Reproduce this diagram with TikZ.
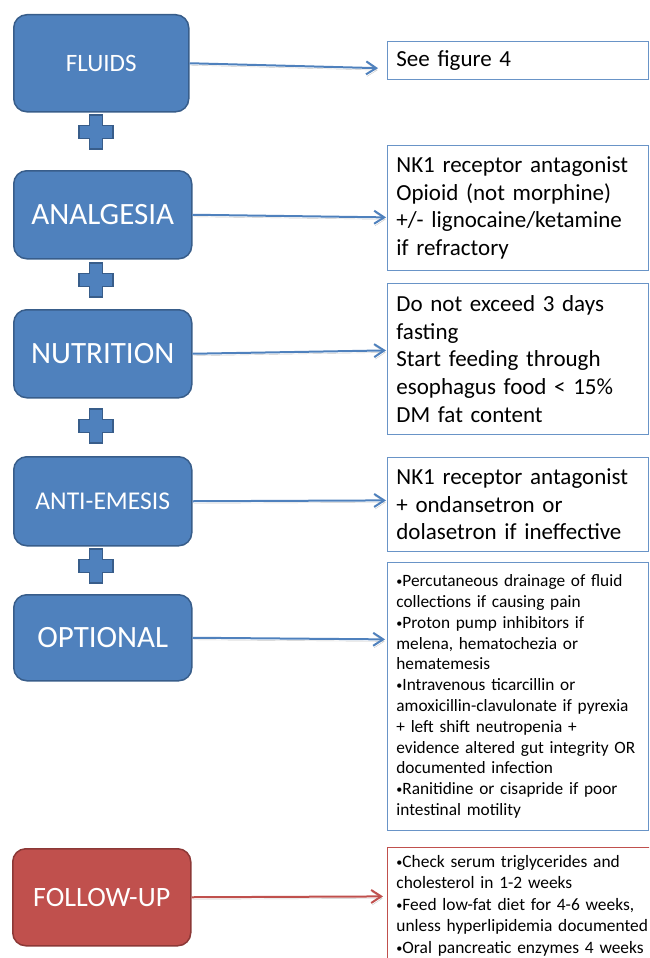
\documentclass[tikz,border=0pt]{standalone}
\usepackage{fontspec}
\setmainfont{Carlito}
\usetikzlibrary{arrows.meta}

\definecolor{stepblue}{HTML}{4F81BD}
\definecolor{stepedge}{HTML}{385D8A}
\definecolor{notered}{HTML}{C0504D}
\definecolor{rededge}{HTML}{8C3836}

\newcommand{\smallbul}{\raisebox{0.12ex}{\scalebox{0.7}{•}}}

\begin{document}
\begin{tikzpicture}[
	x=1pt, y=-1pt,
	stagebox/.style={rectangle, rounded corners=13pt, draw=stepedge, fill=stepblue, line width=1.5pt, text=white, minimum width=178pt, anchor=north west},
	notebox/.style={rectangle, draw=stepblue!85, line width=0.8pt, text width=243pt, inner xsep=9pt, inner ysep=0pt, align=left, anchor=north west, font=\fontsize{23}{27.7}\selectfont},
	smallnote/.style={notebox, font=\fontsize{17.3}{20.8}\selectfont},
	linkarrow/.style={-{Straight Barb[length=10pt,width=13pt]}, line width=2pt, draw=stepblue, preaction={draw=black!22, transform canvas={shift={(1pt,-2pt)}}}},
	plus/.pic={
		\filldraw[fill=stepblue, draw=stepedge, line width=1.2pt] (-6.5,-17) -- (6.5,-17) -- (6.5,-6.5) -- (17,-6.5) -- (17,6.5) -- (6.5,6.5) -- (6.5,17) -- (-6.5,17) -- (-6.5,6.5) -- (-17,6.5) -- (-17,-6.5) -- (-6.5,-6.5) -- cycle;
	}
	]
	\path[use as bounding box, clip] (0,0) rectangle (649,958);
	
	% treatment stages
	\node[stagebox, minimum width=175pt, minimum height=97pt, font=\fontsize{25}{30}\selectfont] (fluids) at (13,14) {FLUIDS};
	\node[stagebox, minimum height=88pt, font=\fontsize{31}{36}\selectfont] (analgesia) at (13,170) {ANALGESIA};
	\node[stagebox, minimum height=88pt, font=\fontsize{31}{36}\selectfont] (nutrition) at (13,309) {NUTRITION};
	\node[stagebox, minimum height=89pt, font=\fontsize{25.6}{30}\selectfont] (antiemesis) at (13,456) {ANTI-EMESIS};
	\node[stagebox, minimum height=86pt, font=\fontsize{31}{36}\selectfont] (optional) at (13,594) {OPTIONAL};
	\node[stagebox, fill=notered, draw=rededge, minimum height=97pt, font=\fontsize{28}{33}\selectfont] (followup) at (12,848) {FOLLOW-UP};
	
	\pic at (96,132) {plus};
	\pic at (96,280) {plus};
	\pic at (96,426) {plus};
	\pic at (96,566) {plus};
	
	% notes
	\node[notebox, minimum height=38pt] (seefig) at (387,41) {See figure 4};
	\node[notebox, minimum height=125pt] (analgesianote) at (387,145) {NK1 receptor antagonist\\ Opioid (not morphine)\\ +/- lignocaine/ketamine\\ if refractory};
	\node[notebox, minimum height=151pt] (nutritionnote) at (387,283) {Do not exceed 3 days\\ fasting\\ Start feeding through\\ esophagus food < 15\%\\ DM fat content};
	\node[notebox, minimum height=94pt] (emesisnote) at (387,457) {NK1 receptor antagonist\\ + ondansetron or\\ dolasetron if ineffective};
	\node[smallnote, minimum height=268pt] (optionalnote) at (387,562) {\smallbul Percutaneous drainage of fluid\\ collections if causing pain\\ \smallbul Proton pump inhibitors if\\ melena, hematochezia or\\ hematemesis\\ \smallbul Intravenous ticarcillin or\\ amoxicillin-clavulonate if pyrexia\\ + left shift neutropenia +\\ evidence altered gut integrity OR\\ documented infection\\ \smallbul Ranitidine or cisapride if poor\\ intestinal motility};
	\node[smallnote, draw=notered, text width=255pt, minimum height=116pt, font=\fontsize{17.4}{21.5}\selectfont] (followupnote) at (387,847) {\smallbul Check serum triglycerides and\\ cholesterol in 1-2 weeks\\ \smallbul Feed low-fat diet for 4-6 weeks,\\ unless hyperlipidemia documented\\ \smallbul Oral pancreatic enzymes 4 weeks};
	
	% links
	\draw[linkarrow, shorten >=9pt] (fluids.east) -- ([yshift=-8pt]seefig.west);
	\draw[linkarrow, shorten >=1pt] (analgesia.east) -- ([yshift=-9.5pt]analgesianote.west);
	\draw[linkarrow, shorten >=1pt] (nutrition.east) -- ([yshift=8.5pt]nutritionnote.west);
	\draw[linkarrow, shorten >=1pt] (antiemesis.east) -- ([yshift=4pt]emesisnote.west);
	\draw[linkarrow, shorten >=2pt] (optional.east) -- ([yshift=57pt]optionalnote.west);
	\draw[linkarrow, draw=notered, shorten >=4pt] (followup.east) -- ([yshift=9pt]followupnote.west);
\end{tikzpicture}
\end{document}
